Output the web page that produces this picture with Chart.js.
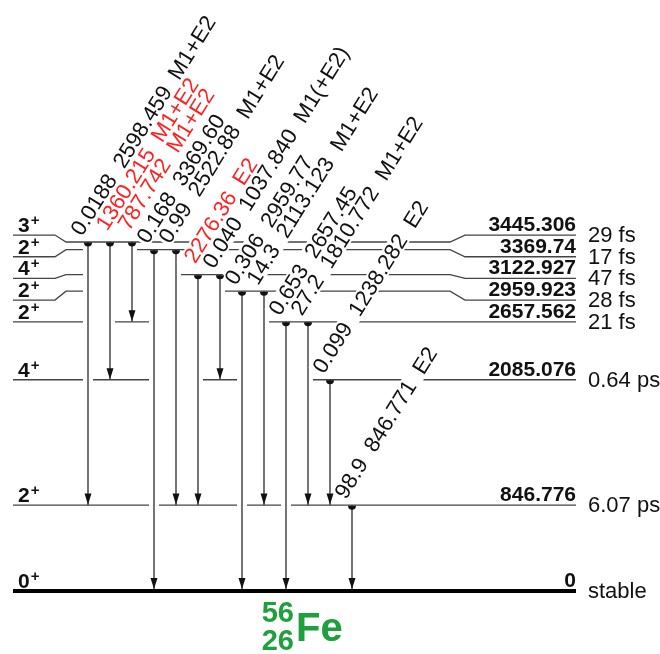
<!DOCTYPE html>
<html>
<head>
<meta charset="utf-8">
<script src="https://cdn.jsdelivr.net/npm/chart.js@4"></script>
<style>
  html, body { margin: 0; padding: 0; background: #fff; }
  #wrap { width: 660px; height: 654px; }
</style>
</head>
<body>
<div id="wrap"><canvas id="levelChart"></canvas></div>
<script>
// 56Fe levels (keV), lowest first
const levelEnergies = [0, 846.776, 2085.076, 2657.562, 2959.923, 3122.927, 3369.74, 3445.306];
const levelLabels = ["0", "846.776", "2085.076", "2657.562", "2959.923", "3122.927", "3369.74", "3445.306"];
const levelSpins = ["0", "2", "4", "2", "2", "4", "2", "3"];
const levelParities = ["+", "+", "+", "+", "+", "+", "+", "+"];
const levelLifetimes = ["stable", "6.07 ps", "0.64 ps", "21 fs", "28 fs", "47 fs", "17 fs", "29 fs"];

// gamma transitions, left to right (indices into the level arrays)
const gammaFrom = [7, 7, 7, 6, 6, 5, 5, 4, 4, 3, 3, 2, 1];
const gammaTo = [1, 2, 3, 0, 1, 1, 2, 0, 1, 0, 1, 1, 0];
const gammaEnergy = ["2598.459", "1360.215", "787.742", "3369.60", "2522.88", "2276.36", "1037.840",
  "2959.77", "2113.123", "2657.45", "1810.772", "1238.282", "846.771"];
const gammaIntensity = ["0.0188", "", "", "0.168", "0.99", "", "0.040", "0.306", "14.3", "0.653", "27.2", "0.099", "98.9"];
const gammaMult = ["M1+E2", "M1+E2", "M1+E2", "", "M1+E2", "E2", "M1(+E2)", "", "M1+E2", "", "M1+E2", "E2", "E2"];
const gammaRed = [false, true, true, false, false, true, false, false, false, false, false, false, false];

const nucleusMass = "56";
const nucleusZ = "26";
const nucleusSymbol = "Fe";

// layout
const X_LEFT = 13, X_RIGHT = 576;
const ARROW_X0 = 88, ARROW_STEP = 22;
const LABEL_GAP = 214; // keV between spread-out level labels
const FONT = '"Liberation Sans", Arial, sans-serif';
const ANGLE = 58 * Math.PI / 180;
const LINE_COLOR = "#444";
const RED = "#f22";
const GREEN = "#1ea03c";

const arrowX = t => ARROW_X0 + t * ARROW_STEP;

// crowded upper levels get evenly spaced label positions
const labelEnergy = levelEnergies.map((e, i) => i >= 3 ? levelEnergies[3] + (i - 3) * LABEL_GAP : e);

function passingRuns(i) {
  const runs = [];
  gammaFrom.forEach((f, t) => {
    const e = levelEnergies[i];
    if (!(levelEnergies[f] > e && levelEnergies[gammaTo[t]] < e)) return;
    const last = runs[runs.length - 1];
    if (last && last[1] === t - 1) last[1] = t;
    else runs.push([t, t]);
  });
  return runs;
}

function levelPoints(i) {
  const e = levelEnergies[i], s = labelEnergy[i];
  const pts = [{ x: X_LEFT, y: s }];
  if (s !== e) pts.push({ x: 55, y: s }, { x: 66, y: e });
  passingRuns(i).forEach(([a, b]) => {
    pts.push({ x: arrowX(a) - 5, y: e },
      { x: (arrowX(a) + arrowX(b)) / 2, y: null },
      { x: arrowX(b) + 5, y: e });
  });
  if (s !== e) pts.push({ x: 450, y: e }, { x: 465, y: s });
  pts.push({ x: X_RIGHT, y: s });
  return pts;
}

const datasets = [];
levelEnergies.forEach((e, i) => {
  datasets.push({
    data: levelPoints(i),
    borderColor: i === 0 ? "#000" : LINE_COLOR,
    borderWidth: i === 0 ? 4 : 1.3,
    pointRadius: 0,
    spanGaps: false
  });
});
gammaFrom.forEach((f, t) => {
  datasets.push({
    data: [{ x: arrowX(t), y: levelEnergies[f] }, { x: arrowX(t), y: levelEnergies[gammaTo[t]] }],
    borderColor: "#1a1a1a",
    borderWidth: 1.2,
    pointRadius: 0
  });
});

function gammaText(t) {
  let s = gammaIntensity[t] ? gammaIntensity[t] + "  " : " ";
  s += gammaEnergy[t];
  if (gammaMult[t]) s += "  " + gammaMult[t];
  return s;
}

const schemePlugin = {
  id: "scheme",
  afterDatasetsDraw(chart) {
    const ctx = chart.ctx;
    const xs = chart.scales.x, ys = chart.scales.y;
    ctx.save();

    // transition labels: white boxes first, then text
    ctx.font = "22px " + FONT;
    ctx.textBaseline = "alphabetic";
    ctx.textAlign = "left";
    for (let pass = 0; pass < 2; pass++) {
      gammaFrom.forEach((f, t) => {
        const ox = xs.getPixelForValue(arrowX(t)) - 6;
        const oy = ys.getPixelForValue(levelEnergies[f]) - 5;
        const text = gammaText(t);
        ctx.save();
        ctx.translate(ox, oy);
        ctx.rotate(-ANGLE);
        if (pass === 0) {
          ctx.fillStyle = "#fff";
          ctx.fillRect(-2, -17, ctx.measureText(text).width + 4, 19);
        } else {
          ctx.fillStyle = gammaRed[t] ? RED : "#111";
          ctx.fillText(text, 0, 0);
        }
        ctx.restore();
      });
    }

    // start dots and arrow heads
    ctx.fillStyle = "#111";
    gammaFrom.forEach((f, t) => {
      const px = xs.getPixelForValue(arrowX(t));
      const y0 = ys.getPixelForValue(levelEnergies[f]);
      ctx.beginPath();
      ctx.arc(px, y0 + 0.5, 4, 0, Math.PI);
      ctx.fill();
      const to = gammaTo[t];
      const tip = ys.getPixelForValue(levelEnergies[to]) - (to === 0 ? 2 : 0.6);
      ctx.beginPath();
      ctx.moveTo(px, tip);
      ctx.lineTo(px - 3.5, tip - 11);
      ctx.lineTo(px + 3.5, tip - 11);
      ctx.closePath();
      ctx.fill();
    });

    // level texts
    levelEnergies.forEach((e, i) => {
      const py = ys.getPixelForValue(labelEnergy[i]);
      const xl = xs.getPixelForValue(X_LEFT);
      const xr = xs.getPixelForValue(X_RIGHT);
      ctx.fillStyle = "#111";
      ctx.textAlign = "left";
      ctx.font = "bold 21px " + FONT;
      ctx.fillText(levelSpins[i], xl + 5, py - 3);
      const w = ctx.measureText(levelSpins[i]).width;
      ctx.font = "bold 15px " + FONT;
      ctx.fillText(levelParities[i], xl + 6 + w, py - 10);

      ctx.textAlign = "right";
      ctx.font = "bold 21px " + FONT;
      ctx.fillText(levelLabels[i], xr, py - 4);
      ctx.textAlign = "left";
      ctx.font = "22px " + FONT;
      ctx.fillText(levelLifetimes[i], xr + 12, py + 7);
    });

    // nucleus name
    const gx = xs.getPixelForValue(296);
    const gy = ys.getPixelForValue(0);
    ctx.fillStyle = GREEN;
    ctx.font = "bold 29px " + FONT;
    ctx.textAlign = "right";
    ctx.fillText(nucleusMass, gx - 2, gy + 31);
    ctx.fillText(nucleusZ, gx - 2, gy + 59);
    ctx.textAlign = "left";
    ctx.font = "bold 40px " + FONT;
    ctx.fillText(nucleusSymbol, gx, gy + 50);

    ctx.restore();
  }
};

new Chart(document.getElementById("levelChart"), {
  type: "line",
  data: { datasets },
  options: {
    animation: false,
    responsive: true,
    maintainAspectRatio: false,
    layout: { padding: 0 },
    plugins: { legend: { display: false }, tooltip: { enabled: false } },
    scales: {
      x: { type: "linear", min: 0, max: 660, display: false },
      y: { type: "linear", min: -622, max: 5834, display: false }
    }
  },
  plugins: [schemePlugin]
});
</script>
</body>
</html>
